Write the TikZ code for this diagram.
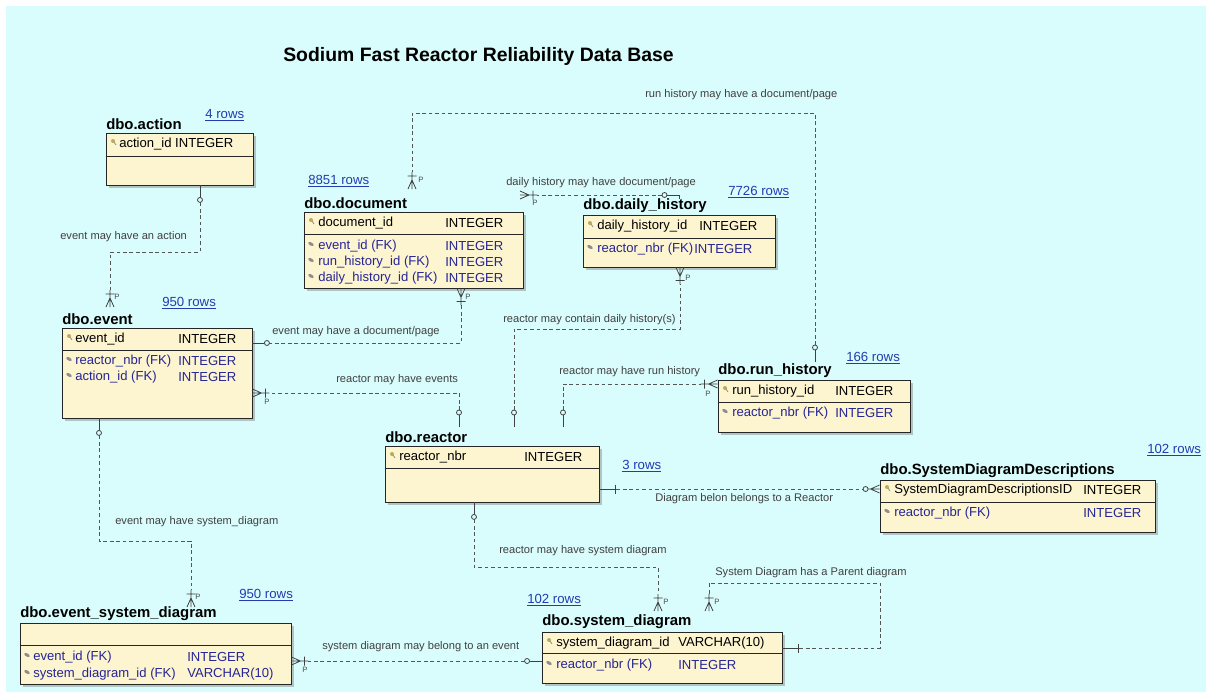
\documentclass[tikz,border=0pt]{standalone}
\usepackage{fontspec}
\setmainfont{Liberation Sans}
\usetikzlibrary{fit,shadows}

\definecolor{bgcyan}{RGB}{217,252,252}
\definecolor{boxfill}{RGB}{253,244,208}
\definecolor{fkblue}{RGB}{38,38,150}
\definecolor{rowsblue}{RGB}{35,60,175}
\definecolor{relgray}{RGB}{85,85,85}
\definecolor{keygold}{RGB}{190,170,90}

\begin{document}
\begin{tikzpicture}[x=0.025cm, y=-0.025cm]

% --- Define Styles ---
\tikzstyle{tbl} = [draw=black!85, line width=0.6pt, fill=boxfill, inner sep=0pt, drop shadow={shadow xshift=0.07cm, shadow yshift=-0.07cm, opacity=0.45}]
\tikzstyle{tbltitle} = [font=\fontsize{10.6}{12}\selectfont\bfseries, anchor=west, inner sep=0pt]
\tikzstyle{pkrow} = [font=\fontsize{9.3}{11}\selectfont, anchor=west, inner sep=0pt]
\tikzstyle{fkrow} = [pkrow, text=fkblue]
\tikzstyle{rowcount} = [font=\fontsize{9.4}{11}\selectfont, text=rowsblue, anchor=west, inner sep=0pt]
\tikzstyle{rellabel} = [font=\fontsize{7.9}{9}\selectfont, text=black!75, anchor=west, inner sep=0pt]
\tikzstyle{plabel} = [font=\fontsize{5.5}{6}\selectfont, text=black!70, inner sep=0pt]
\tikzstyle{divider} = [draw=black!85, line width=0.6pt]
\tikzstyle{rel} = [draw=relgray, line width=0.55pt, dash pattern=on 2.6pt off 2pt, shorten <=0.425cm, shorten >=0.425cm]
\tikzstyle{relend} = [draw=black!75, line width=0.55pt]

\tikzset{
  pics/zeroone/.style={code={
    \draw[relend] (0,0) -- (12,0);
    \draw[relend, fill=bgcyan] (14.5,0) circle (2.5);
  }},
  pics/zeromany/.style={code={
    \draw[relend] (0,-4) -- (9,0) -- (0,4) (0,0) -- (11.5,0);
    \draw[relend, fill=bgcyan] (14,0) circle (2.5);
  }},
  pics/crow/.style={code={
    \draw[relend] (0,-4) -- (9,0) -- (0,4) (0,0) -- (17,0) (13,-4.5) -- (13,4.5);
  }},
  pics/onebar/.style={code={
    \draw[relend] (0,0) -- (17,0) (16,-4.5) -- (16,4.5);
  }},
  pics/pkicon/.style={code={
    \fill[keygold] (0,0) circle (2);
    \draw[black!45, line width=0.5pt] (1,1) -- (3,4);
  }},
  pics/fkicon/.style={code={
    \fill[black!45, rotate=-30] (0,0) ellipse (3 and 1.6);
  }}
}

% --- Background ---
\useasboundingbox (0,0) rectangle (1206,692);
\fill[white] (0,0) rectangle (1206,692);
\fill[bgcyan] (6,6) rectangle (1206,692);

\node[font=\fontsize{13.8}{16}\selectfont\bfseries, anchor=west, inner sep=0pt] (title) at (283,56) {Sodium Fast Reactor Reliability Data Base};

% --- Tables ---
% dbo.action
\node[tbltitle] (action-title) at (106,124) {dbo.action};
\node[rowcount] (action-rows) at (205,115) {\underline{4 rows}};
\node[tbl, fit={(106,133) (253,185)}] (action) {};
\draw[divider] (action.west |- 0,156) -- (action.east |- 0,156);
\pic at (113,141) {pkicon};
\node[pkrow] (action-r1) at (119,144) {action\_id INTEGER};

% dbo.document
\node[tbltitle] (document-title) at (304,203) {dbo.document};
\node[rowcount] (document-rows) at (308,181) {\underline{8851 rows}};
\node[tbl, fit={(304,212) (523,288)}] (document) {};
\draw[divider] (document.west |- 0,234) -- (document.east |- 0,234);
\pic at (311,220) {pkicon};
\node[pkrow] (document-r1) at (318,223) {document\_id};
\node[pkrow] (document-t1) at (445,223) {INTEGER};
\pic at (311,244) {fkicon};
\node[fkrow] (document-r2) at (318,246) {event\_id (FK)};
\node[fkrow] (document-t2) at (445,246) {INTEGER};
\pic at (311,260) {fkicon};
\node[fkrow] (document-r3) at (318,262) {run\_history\_id (FK)};
\node[fkrow] (document-t3) at (445,262) {INTEGER};
\pic at (311,276) {fkicon};
\node[fkrow] (document-r4) at (318,278) {daily\_history\_id (FK)};
\node[fkrow] (document-t4) at (445,278) {INTEGER};

% dbo.daily_history
\node[tbltitle] (daily-title) at (583,206) {dbo.daily\_history};
\node[rowcount] (daily-rows) at (728,192) {\underline{7726 rows}};
\node[tbl, fit={(583,215) (775,267)}] (daily) {};
\draw[divider] (daily.west |- 0,238) -- (daily.east |- 0,238);
\pic at (590,223) {pkicon};
\node[pkrow] (daily-r1) at (597,226) {daily\_history\_id};
\node[pkrow] (daily-t1) at (699,226) {INTEGER};
\pic at (590,247) {fkicon};
\node[fkrow] (daily-r2) at (597,249) {reactor\_nbr (FK)};
\node[fkrow] (daily-t2) at (694,249) {INTEGER};

% dbo.event
\node[tbltitle] (event-title) at (62,319) {dbo.event};
\node[rowcount] (event-rows) at (162,303) {\underline{950 rows}};
\node[tbl, fit={(62,328) (252,418)}] (event) {};
\draw[divider] (event.west |- 0,350) -- (event.east |- 0,350);
\pic at (69,336) {pkicon};
\node[pkrow] (event-r1) at (75,339) {event\_id};
\node[pkrow] (event-t1) at (178,339) {INTEGER};
\pic at (69,359) {fkicon};
\node[fkrow] (event-r2) at (75,361) {reactor\_nbr (FK)};
\node[fkrow] (event-t2) at (178,361) {INTEGER};
\pic at (69,375) {fkicon};
\node[fkrow] (event-r3) at (75,377) {action\_id (FK)};
\node[fkrow] (event-t3) at (178,377) {INTEGER};

% dbo.reactor
\node[tbltitle] (reactor-title) at (385,437) {dbo.reactor};
\node[rowcount] (reactor-rows) at (622,466) {\underline{3 rows}};
\node[tbl, fit={(385,446) (599,502)}] (reactor) {};
\draw[divider] (reactor.west |- 0,468) -- (reactor.east |- 0,468);
\pic at (392,454) {pkicon};
\node[pkrow] (reactor-r1) at (399,457) {reactor\_nbr};
\node[pkrow] (reactor-t1) at (524,457) {INTEGER};

% dbo.run_history
\node[tbltitle] (run-title) at (718,371) {dbo.run\_history};
\node[rowcount] (run-rows) at (846,358) {\underline{166 rows}};
\node[tbl, fit={(718,380) (910,432)}] (run) {};
\draw[divider] (run.west |- 0,402) -- (run.east |- 0,402);
\pic at (725,388) {pkicon};
\node[pkrow] (run-r1) at (732,391) {run\_history\_id};
\node[pkrow] (run-t1) at (835,391) {INTEGER};
\pic at (725,411) {fkicon};
\node[fkrow] (run-r2) at (732,413) {reactor\_nbr (FK)};
\node[fkrow] (run-t2) at (835,413) {INTEGER};

% dbo.SystemDiagramDescriptions
\node[tbltitle] (sdd-title) at (880,471) {dbo.SystemDiagramDescriptions};
\node[rowcount] (sdd-rows) at (1147,450) {\underline{102 rows}};
\node[tbl, fit={(880,480) (1155,532)}] (sdd) {};
\draw[divider] (sdd.west |- 0,502) -- (sdd.east |- 0,502);
\pic at (887,487) {pkicon};
\node[pkrow] (sdd-r1) at (894,490) {SystemDiagramDescriptionsID};
\node[pkrow] (sdd-t1) at (1083,490) {INTEGER};
\pic at (887,511) {fkicon};
\node[fkrow] (sdd-r2) at (894,513) {reactor\_nbr (FK)};
\node[fkrow] (sdd-t2) at (1083,513) {INTEGER};

% dbo.event_system_diagram
\node[tbltitle] (esd-title) at (20,614) {dbo.event\_system\_diagram};
\node[rowcount] (esd-rows) at (239,595) {\underline{950 rows}};
\node[tbl, fit={(20,623) (291,684)}] (esd) {};
\draw[divider] (esd.west |- 0,645) -- (esd.east |- 0,645);
\pic at (27,655) {fkicon};
\node[fkrow] (esd-r1) at (33,657) {event\_id (FK)};
\node[fkrow] (esd-t1) at (187,657) {INTEGER};
\pic at (27,672) {fkicon};
\node[fkrow] (esd-r2) at (33,674) {system\_diagram\_id (FK)};
\node[fkrow] (esd-t2) at (187,674) {VARCHAR(10)};

% dbo.system_diagram
\node[tbltitle] (sd-title) at (542,622) {dbo.system\_diagram};
\node[rowcount] (sd-rows) at (527,600) {\underline{102 rows}};
\node[tbl, fit={(542,632) (782,683)}] (sd) {};
\draw[divider] (sd.west |- 0,653) -- (sd.east |- 0,653);
\pic at (549,640) {pkicon};
\node[pkrow] (sd-r1) at (556,643) {system\_diagram\_id};
\node[pkrow] (sd-t1) at (678,643) {VARCHAR(10)};
\pic at (549,663) {fkicon};
\node[fkrow] (sd-r2) at (556,665) {reactor\_nbr (FK)};
\node[fkrow] (sd-t2) at (678,665) {INTEGER};

% --- Relationship ends ---
\coordinate (actS) at (action.south -| 200,0);
\coordinate (evN) at (110,307);
\coordinate (runN) at (815,362);
\coordinate (docN) at (412,189);
\coordinate (dailyW) at (679,195);
\coordinate (docE) at (520,195);
\coordinate (docS) at (document.south -| 461,0);
\coordinate (evE1) at (event.east |- 0,343);
\coordinate (evE2) at (event.east |- 0,393);
\coordinate (reaN1) at (459,427);
\coordinate (reaN2) at (514,427);
\coordinate (reaN3) at (563,427);
\coordinate (dailyS) at (daily.south -| 680,0);
\coordinate (runW) at (run.west |- 0,384);
\coordinate (reaE) at (reactor.east |- 0,489);
\coordinate (sddW) at (sdd.west |- 0,489);
\coordinate (reaS) at (reactor.south -| 474,0);
\coordinate (sdN1) at (658,611);
\coordinate (sdN2) at (709,611);
\coordinate (sdE) at (sd.east |- 0,648);
\coordinate (sdLoop) at (880,583);
\coordinate (sdW) at (sd.west |- 0,661);
\coordinate (esdE) at (esd.east |- 0,661);
\coordinate (evS) at (event.south -| 99,0);
\coordinate (esdN) at (191,607);

% --- Relationships ---
\draw[rel] (actS) -- (actS |- 0,252) -| (evN);
\pic[rotate=-90] at (actS) {zeroone};
\pic[rotate=90] at (evN) {crow};
\node[plabel] (pA) at (117,297) {P};
\node[rellabel] (lA) at (60,237) {event may have an action};

\draw[rel] (runN) -- (runN |- 0,113) -| (docN);
\pic[rotate=90] at (runN) {zeroone};
\pic[rotate=90] at (docN) {crow};
\node[plabel] (pB) at (421,180) {P};
\node[rellabel] (lB) at (645,95) {run history may have a document/page};

\draw[rel] (dailyW) -- (docE);
\draw[relend] (dailyW) -- ++(0,4);
\pic[rotate=180] at (dailyW) {zeroone};
\pic at (docE) {crow};
\node[plabel] (pC) at (535,203) {P};
\node[rellabel] (lC) at (506,183) {daily history may have document/page};

\draw[rel] (docS) |- (evE1);
\pic[rotate=-90] at (docS) {crow};
\pic at (evE1) {zeroone};
\node[plabel] (pD) at (468,297) {P};
\node[rellabel] (lD) at (272,332) {event may have a document/page};

\draw[rel] (reaN1) |- (evE2);
\pic[rotate=90] at (reaN1) {zeroone};
\pic at (evE2) {crow};
\node[plabel] (pE) at (267,402) {P};
\node[rellabel] (lE) at (336,380) {reactor may have events};

\draw[rel] (reaN2) -- (reaN2 |- 0,329) -| (dailyS);
\pic[rotate=90] at (reaN2) {zeroone};
\pic[rotate=-90] at (dailyS) {crow};
\node[plabel] (pF) at (688,278) {P};
\node[rellabel] (lF) at (503,320) {reactor may contain daily history(s)};

\draw[rel] (reaN3) |- (runW);
\pic[rotate=90] at (reaN3) {zeroone};
\pic[rotate=180] at (runW) {crow};
\node[plabel] (pG) at (708,394) {P};
\node[rellabel] (lG) at (559,372) {reactor may have run history};

\draw[rel] (reaE) -- (sddW);
\pic at (reaE) {onebar};
\pic[rotate=180] at (sddW) {zeromany};
\node[rellabel] (lH) at (655,499) {Diagram belon belongs to a Reactor};

\draw[rel] (reaS) -- (reaS |- 0,567) -| (sdN1);
\pic[rotate=-90] at (reaS) {zeroone};
\pic[rotate=90] at (sdN1) {crow};
\node[plabel] (pI) at (666,602) {P};
\node[rellabel] (lI) at (499,551) {reactor may have system diagram};

\draw[rel] (sdE) -| (sdLoop) -| (sdN2);
\pic at (sdE) {onebar};
\pic[rotate=90] at (sdN2) {crow};
\node[plabel] (pJ) at (717,602) {P};
\node[rellabel] (lJ) at (715,573) {System Diagram has a Parent diagram};

\draw[rel] (sdW) -- (esdE);
\pic[rotate=180] at (sdW) {zeroone};
\pic at (esdE) {crow};
\node[plabel] (pK) at (305,670) {P};
\node[rellabel] (lK) at (322,647) {system diagram may belong to an event};

\draw[rel] (evS) -- (evS |- 0,541) -| (esdN);
\pic[rotate=-90] at (evS) {zeroone};
\pic[rotate=90] at (esdN) {crow};
\node[plabel] (pL) at (198,597) {P};
\node[rellabel] (lL) at (115,522) {event may have system\_diagram};

\end{tikzpicture}
\end{document}
